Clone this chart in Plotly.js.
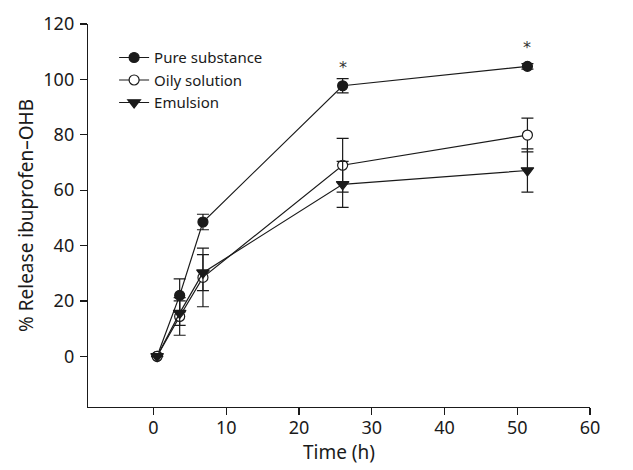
<!DOCTYPE html>
<html><head><meta charset="utf-8">
<script src="https://cdn.plot.ly/plotly-3.0.1.min.js"></script>
<style>body{margin:0;background:#fff}#chart{width:633px;height:470px}</style>
</head><body><div id="chart"></div>
<script>
// Time positions as they appear on the picture's axis
const timeH = [0.5, 3.6, 6.8, 26.0, 51.4];
const pureVals = [0, 22, 48.5, 97.7, 104.7];
const pureErr = [0, 6, 2.8, 2.6, 1];
const oilyVals = [0, 14.4, 28.5, 69, 79.9];
const oilyErr = [0, 6.8, 10.6, 9.7, 6.1];
const emulVals = [0, 15.6, 30.2, 62.1, 67.1];
const emulErr = [0, 4.4, 6.5, 8.3, 7.8];
const seriesNames = ["Pure substance", "Oily solution", "Emulsion"];
const starX = [26.0, 51.4];
const starY = [104.3, 111.6];
const xTicks = [0, 10, 20, 30, 40, 50, 60];
const yTicks = [0, 20, 40, 60, 80, 100, 120];

function tr(name, y, err, symbol, fill) {
  return {
    x: timeH, y: y, name: name, type: 'scatter', mode: 'lines+markers',
    line: {color: '#1a1a1a', width: 1.2},
    marker: {symbol: symbol, size: symbol === 'triangle-down' ? 11 : 10, color: fill, line: {color: '#1a1a1a', width: 1.2}},
    error_y: {type: 'data', array: err, visible: true, color: '#1a1a1a', thickness: 1.2, width: 6}
  };
}
const data = [
  tr(seriesNames[0], pureVals, pureErr, 'circle', '#1a1a1a'),
  tr(seriesNames[1], oilyVals, oilyErr, 'circle', '#ffffff'),
  tr(seriesNames[2], emulVals, emulErr, 'triangle-down', '#1a1a1a')
];
const tickFont = {family: 'Noto Sans, sans-serif', size: 18, color: '#1a1a1a'};
const titleFont = {family: 'Noto Sans, sans-serif', size: 19, color: '#1a1a1a'};
const layout = {
  width: 633, height: 470,
  margin: {l: 88, r: 43, t: 24, b: 63},
  paper_bgcolor: '#fff', plot_bgcolor: '#fff',
  font: tickFont,
  showlegend: true,
  legend: {x: 0.052, y: 0.955, xanchor: 'left', yanchor: 'top',
    font: {family: 'Noto Sans, sans-serif', size: 15, color: '#1a1a1a'}, itemwidth: 30, bgcolor: 'rgba(0,0,0,0)'},
  xaxis: {
    range: [-9, 60], tickvals: xTicks, ticktext: xTicks.map(String), tickfont: tickFont,
    showgrid: false, zeroline: false, showline: true, linecolor: '#1a1a1a', linewidth: 1.2,
    ticks: 'outside', ticklen: 7, tickwidth: 1.2, tickcolor: '#1a1a1a', ticklabelstandoff: -3,
    title: {text: 'Time (h)', font: titleFont, standoff: 2}
  },
  yaxis: {
    range: [-18.3, 120], tickvals: yTicks, ticktext: yTicks.map(String), tickfont: tickFont,
    showgrid: false, zeroline: false, showline: true, linecolor: '#1a1a1a', linewidth: 1.2,
    ticks: 'outside', ticklen: 7, tickwidth: 1.2, tickcolor: '#1a1a1a', ticklabelstandoff: 2,
    title: {text: '% Release ibuprofen\u2013OHB', font: titleFont, standoff: 4}
  },
  annotations: starX.map((x, i) => ({x: x, y: starY[i], xref: 'x', yref: 'y', text: '*', showarrow: false, font: {family: 'DejaVu Sans, sans-serif', size: 16, color: '#333333'}}))
};
Plotly.newPlot('chart', data, layout, {displayModeBar: false, staticPlot: true});
</script></body></html>
